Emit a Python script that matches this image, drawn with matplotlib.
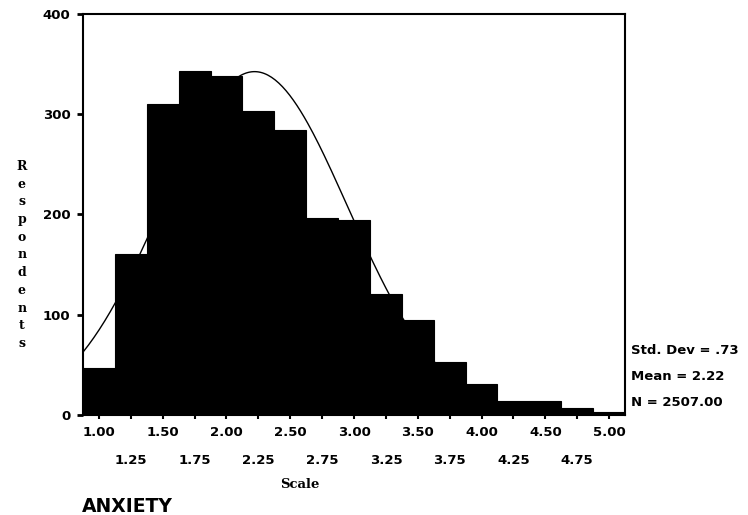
import numpy as np
import matplotlib
matplotlib.use("Agg")
import matplotlib.pyplot as plt

# Histogram of ANXIETY scale scores (bin centres and counts)
bin_centers = [1.00, 1.25, 1.50, 1.75, 2.00, 2.25, 2.50, 2.75, 3.00,
               3.25, 3.50, 3.75, 4.00, 4.25, 4.50, 4.75, 5.00]
counts = [47, 161, 310, 343, 338, 303, 284, 197, 195,
          121, 95, 53, 31, 14, 14, 7, 3]
major_ticks = [1.00, 1.50, 2.00, 2.50, 3.00, 3.50, 4.00, 4.50, 5.00]
minor_ticks = [1.25, 1.75, 2.25, 2.75, 3.25, 3.75, 4.25, 4.75]
y_ticks = [0, 100, 200, 300, 400]

# summary stats printed beside the chart
std_dev = 0.73
mean = 2.22
n_total = 2507.00
bin_width = 0.25

fig = plt.figure(figsize=(7.48, 5.15), dpi=100)
ax = fig.add_axes([0.111, 0.1942, 0.7246, 0.7786])

ax.bar(bin_centers, counts, width=bin_width, color="black", edgecolor="black",
       linewidth=0.8, zorder=2)

# fitted normal curve from the reported mean / sd / N
xs = np.linspace(0.875, 5.125, 300)
ys = n_total * bin_width / (std_dev * np.sqrt(2 * np.pi)) * np.exp(-0.5 * ((xs - mean) / std_dev) ** 2)
ax.plot(xs, ys, color="black", linewidth=1.0, zorder=3)

ax.set_xlim(0.875, 5.125)
ax.set_ylim(0, 400)

tick_font = dict(family="DejaVu Sans", weight="bold", size=9.5)
ax.set_xticks(major_ticks)
ax.set_xticklabels(["%.2f" % v for v in major_ticks], fontdict=tick_font)
ax.set_xticks(minor_ticks, minor=True)
ax.set_xticklabels(["%.2f" % v for v in minor_ticks], minor=True, fontdict=tick_font)
ax.set_yticks(y_ticks)
ax.set_yticklabels([str(v) for v in y_ticks], fontdict=tick_font)

ax.tick_params(axis="x", which="major", length=3, width=1.5, pad=5)
ax.tick_params(axis="x", which="minor", length=3, width=1.5, pad=25)
ax.tick_params(axis="y", length=4, width=2, pad=5)

for sp in ax.spines.values():
    sp.set_linewidth(1.5)

# y label drawn as stacked letters
fig.text(22 / 748, 1 - 255 / 515, "\n".join("Respondents"), ha="center", va="center",
         family="DejaVu Serif", weight="bold", fontsize=9, linespacing=1.47)

fig.text(300 / 748, 1 - 485 / 515, "Scale", ha="center", va="center",
         family="DejaVu Serif", weight="bold", fontsize=9.5)

fig.text(82 / 748, 1 - 506 / 515, "ANXIETY", ha="left", va="center",
         family="DejaVu Sans", weight="bold", fontsize=13.5)

stats = ["Std. Dev = .73", "Mean = %.2f" % mean, "N = %.2f" % n_total]
for i, s in enumerate(stats):
    fig.text(631 / 748, 1 - (351 + 26 * i) / 515, s, ha="left", va="center",
             family="DejaVu Sans", weight="bold", fontsize=9.5)

fig.savefig("out.png", dpi=100)
